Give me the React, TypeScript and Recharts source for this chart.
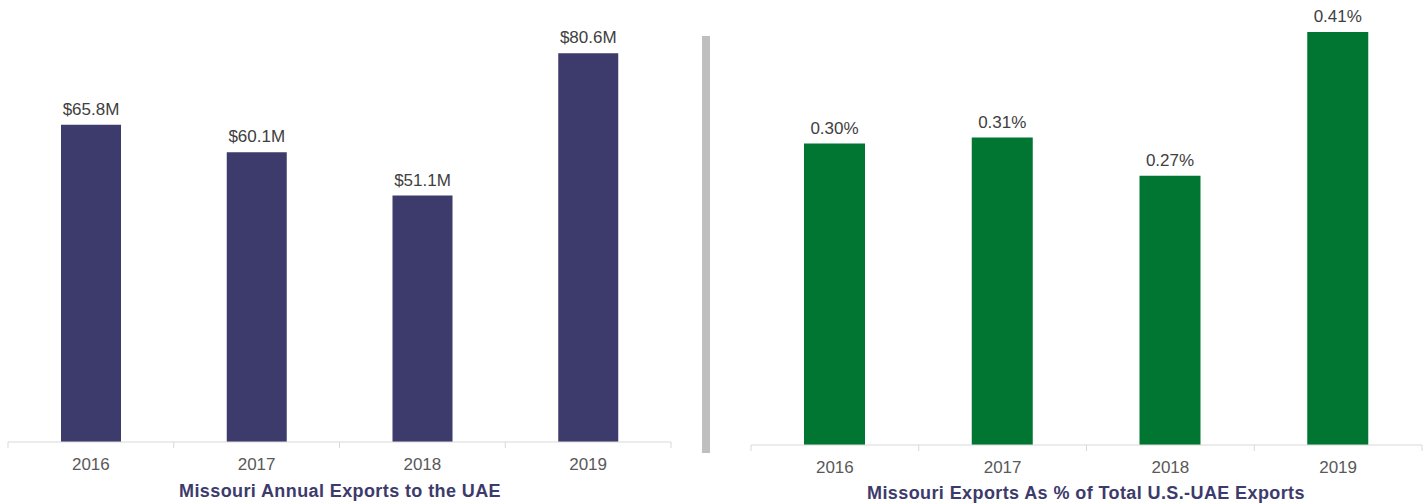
import { BarChart, Bar, XAxis, YAxis, LabelList } from 'recharts';

const years = ['2016', '2017', '2018', '2019'];
const exportsMillions = [65.8, 60.1, 51.1, 80.6];
const shareOfUsUae = [0.3, 0.306, 0.268, 0.411];

const FONT = '"Liberation Sans", Arial, sans-serif';
const NAVY = '#3c3b6b';
const GREEN = '#007632';
const AXIS = '#d9d9d9';

const exportsData = years.map((year, i) => ({ year, value: exportsMillions[i] }));
const shareData = years.map((year, i) => ({ year, value: shareOfUsUae[i] }));

// category tick with boundary tick marks (Excel style) instead of centred ones
function EdgeTick(props: any) {
  const { x, y, payload, index, visibleTicksCount } = props;
  const half = payload.offset || 0;
  const axisY = y - 16;
  const last = index === (visibleTicksCount || 4) - 1;
  return (
    <g>
      <line x1={x - half} y1={axisY} x2={x - half} y2={axisY + 6} stroke={AXIS} />
      {last && <line x1={x + half} y1={axisY} x2={x + half} y2={axisY + 6} stroke={AXIS} />}
      <text x={x} y={y} dy="0.71em" textAnchor="middle" fill="#595959" fontSize={17} fontFamily={FONT}>
        {payload.value}
      </text>
    </g>
  );
}

export default function App() {
  return (
    <div style={{ position: 'fixed', left: 0, top: 0, width: 1427, height: 504, background: '#fff', fontFamily: FONT }}>
      {/* Left: annual exports */}
      <div style={{ position: 'absolute', left: 0, top: 0 }}>
        <BarChart width={700} height={504} data={exportsData} margin={{ top: 8, right: 29, bottom: 0, left: 8 }}>
          <XAxis dataKey="year" height={62} axisLine={{ stroke: AXIS }} tickLine={false} tickSize={6} tickMargin={10} tick={<EdgeTick />} interval={0} />
          <YAxis hide domain={[0, 90]} />
          <Bar dataKey="value" fill={NAVY} barSize={60} isAnimationActive={false}>
            <LabelList
              dataKey="value"
              position="top"
              offset={10}
              fill="#404040"
              fontSize={17}
              fontFamily={FONT}
              formatter={(v: any) => `$${Number(v).toFixed(1)}M`}
            />
          </Bar>
        </BarChart>
      </div>

      {/* divider */}
      <div style={{ position: 'absolute', left: 702, top: 36, width: 8, height: 417, background: '#bfbfbf' }} />

      {/* Right: share of total US-UAE exports */}
      <div style={{ position: 'absolute', left: 700, top: 0 }}>
        <BarChart width={727} height={504} data={shareData} margin={{ top: 23, right: 5, bottom: 0, left: 51 }}>
          <XAxis dataKey="year" height={59} axisLine={{ stroke: AXIS }} tickLine={false} tickSize={6} tickMargin={10} tick={<EdgeTick />} interval={0} />
          <YAxis hide domain={[0, 0.42]} />
          <Bar dataKey="value" fill={GREEN} barSize={61} isAnimationActive={false}>
            <LabelList
              dataKey="value"
              position="top"
              offset={10}
              fill="#404040"
              fontSize={17}
              fontFamily={FONT}
              formatter={(v: any) => `${Number(v).toFixed(2)}%`}
            />
          </Bar>
        </BarChart>
      </div>

      {/* chart titles */}
      <svg width={1427} height={504} style={{ position: 'absolute', left: 0, top: 0, pointerEvents: 'none' }}>
        <text x={340} y={497} textAnchor="middle" fill={NAVY} fontSize={18} fontWeight="bold" letterSpacing={0.4} fontFamily={FONT}>
          Missouri Annual Exports to the UAE
        </text>
        <text x={1086} y={499} textAnchor="middle" fill={NAVY} fontSize={18} fontWeight="bold" letterSpacing={0.4} fontFamily={FONT}>
          Missouri Exports As % of Total U.S.-UAE Exports
        </text>
      </svg>
    </div>
  );
}
